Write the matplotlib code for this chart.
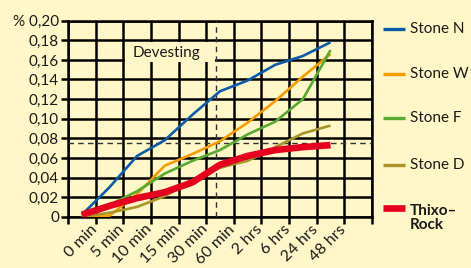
import numpy as np
import matplotlib
matplotlib.use('Agg')
import matplotlib.pyplot as plt
from matplotlib.lines import Line2D
from matplotlib.patches import Rectangle

plt.rcParams['font.family'] = ['Lato', 'DejaVu Sans']

#%% data (percent)
times = ['0 min', '5 min', '10 min', '15 min', '30 min', '60 min',
         '2 hrs', '6 hrs', '24 hrs', '48 hrs']
stone_n = [0.002, 0.030, 0.062, 0.078, 0.104, 0.128, 0.139, 0.155, 0.164, 0.178]
stone_w = [0.000, 0.001, 0.023, 0.052, 0.064, 0.077, 0.096, 0.118, 0.143, 0.166]
stone_f = [0.001, 0.012, 0.026, 0.044, 0.057, 0.068, 0.084, 0.097, 0.120, 0.170]
stone_d = [0.000, 0.004, 0.010, 0.021, 0.037, 0.050, 0.057, 0.071, 0.085, 0.093]
thixo = [0.002, 0.011, 0.019, 0.025, 0.035, 0.053, 0.062, 0.068, 0.071, 0.073]

names = ['Stone N', 'Stone W', 'Stone F', 'Stone D', 'Thixo–\nRock']
series = [stone_n, stone_w, stone_f, stone_d, thixo]
colors = ['#0b5ca8', '#f59c00', '#58a832', '#a8952a', '#e4001e']
widths = [1.9, 1.9, 1.9, 1.9, 4.8]

limit = 0.0755      # horizontal dashed line
devest = 4.86       # vertical dashed line (just before 60 min)

bg = '#fff7c8'

#%%
fig = plt.figure(figsize=(4.71, 2.68), dpi=100, facecolor=bg)
ax = fig.add_axes([0.1444, 0.1914, 0.6454, 0.7314], facecolor=bg)

x = np.arange(len(times))
ax.set_xlim(-0.5, 10.5)
ax.set_ylim(0, 0.2)

# grid
ax.set_xticks(np.arange(-0.5, 10.6, 1))
ax.set_xticklabels([])
ax.set_xticks(x + 0.28, times, minor=True)
ax.tick_params(axis='x', which='major', direction='out', length=5, width=1.8, color='k')
ax.tick_params(axis='x', which='minor', length=0, pad=4)
for lab in ax.get_xticklabels(minor=True):
    lab.set_rotation(45)
    lab.set_ha('right')
    lab.set_va('top')
    lab.set_rotation_mode('anchor')
    lab.set_fontsize(11.5)
    lab.set_color('#1a1a1a')

yt = np.arange(0, 0.201, 0.02)
ylabs = ['0'] + [f'{v:.2f}'.replace('.', ',') for v in yt[1:-1]] + ['% 0,20']
ax.set_yticks(yt, ylabs)
ax.tick_params(axis='y', direction='out', length=5, width=1.8, color='k',
               labelsize=11, labelcolor='#1a1a1a', pad=1.5)
ax.grid(True, color='k', lw=1.8, zorder=1)
for s in ax.spines.values():
    s.set_linewidth(1.8)
    s.set_zorder(1)

# dashed markers
ax.axhline(limit, color='#333333', lw=1.0, ls=(0, (4, 3)), zorder=2)
ax.axvline(devest, color='#333333', lw=1.0, ls=(0, (4, 3)), zorder=2)
ax.add_patch(Rectangle((1.57, 0.1575), devest - 1.62, 0.0205, facecolor=bg,
                       edgecolor='none', zorder=2.5))
ax.text(1.82, 0.1675, 'Devesting', fontsize=11, color='#1a1a1a', va='center',
        ha='left', zorder=3)

for ys, c, w in zip(series, colors, widths):
    ax.plot(x, ys, color=c, lw=w, solid_capstyle='butt', zorder=4)

# legend on the right
leg_y = [29, 74, 118, 165, 208]
for name, c, w, yy in zip(names, colors, widths, leg_y):
    fy = 1 - yy / 268
    fig.add_artist(Line2D([383 / 471, 405 / 471], [fy, fy], color=c,
                          lw=2.4 if w < 3 else 4.8, solid_capstyle='butt'))
    bold = name.startswith('Thixo')
    ty = 1 - (yy + 10) / 268 if bold else fy
    fig.text(410 / 471, ty, name, fontsize=11, color='#1a1a1a', ha='left',
             va='center', fontweight='bold' if bold else 'normal',
             linespacing=1.0, transform=fig.transFigure)

fig.savefig('out.png', dpi=100, facecolor=bg)
